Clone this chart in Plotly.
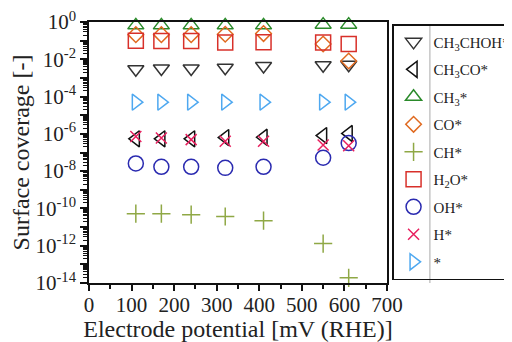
import plotly.graph_objects as go

potential = [110, 170, 240, 320, 410, 550, 610]

ch3choh = [2.95e-3, 3.2e-3, 3.2e-3, 3.5e-3, 4.4e-3, 4.8e-3, 5.1e-3]
ch3co = [5.4e-7, 5.4e-7, 5.4e-7, 6.3e-7, 6.6e-7, 8.1e-7, 1.05e-6]
ch3 = [0.66, 0.66, 0.66, 0.66, 0.66, 0.72, 0.72]
co = [0.21, 0.21, 0.21, 0.22, 0.24, 0.066, 0.0081]
ch = [5.2e-11, 5.2e-11, 4.6e-11, 3.7e-11, 2.2e-11, 1.3e-12, 1.9e-14]
h2o = [0.10, 0.095, 0.095, 0.079, 0.083, 0.079, 0.066]
oh = [2.6e-8, 1.7e-8, 1.7e-8, 1.5e-8, 1.7e-8, 5.2e-8, 3.2e-7]
h = [7.2e-7, 6.0e-7, 4.9e-7, 4.0e-7, 4.0e-7, 2.5e-7, 2.3e-7]
free = [5e-5, 5e-5, 5e-5, 5e-5, 5e-5, 5e-5, 5e-5]

series = [
    ("CH<sub>3</sub>CHOH*", ch3choh, "triangle-down-open", "#333333", 14),
    ("CH<sub>3</sub>CO*", ch3co, "triangle-left-open", "#111111", 14),
    ("CH<sub>3</sub>*", ch3, "triangle-up-open", "#2a8a2a", 14),
    ("CO*", co, "diamond-open", "#e06a20", 12),
    ("CH*", ch, "cross-thin", "#8fa845", 13),
    ("H<sub>2</sub>O*", h2o, "square-open", "#d8302a", 15),
    ("OH*", oh, "circle-open", "#2a2ab0", 15),
    ("H*", h, "x-thin", "#e8205f", 11),
    ("*", free, "triangle-right-open", "#4ea8f0", 14),
]

x_ticks = [0, 100, 200, 300, 400, 500, 600, 700]
y_major = [10.0 ** (-k) for k in range(0, 15)]
y_text = [("10<sup>0</sup>" if k == 0 else "10<sup>-%d</sup>" % k) if k % 2 == 0 else "" for k in range(0, 15)]
y_minor = [m * 10.0 ** (-k) for k in range(1, 15) for m in range(2, 10)]

FF = "Liberation Serif"
TXT = "#222222"

fig = go.Figure()
for i, (name, vals, sym, col, sz) in enumerate(series):
    fig.add_trace(go.Scatter(
        x=potential, y=vals, mode="markers", name=name,
        legendgroup="g%d" % i,
        cliponaxis=False,
        marker=dict(symbol=sym, size=sz, color=col,
                    line=dict(color=col, width=1.5)),
    ))

fig.update_layout(
    width=504, height=334,
    margin=dict(l=81, r=125, t=14, b=59, autoexpand=False),
    paper_bgcolor="white", plot_bgcolor="white",
    font=dict(family=FF, color=TXT, size=22),
    showlegend=True,
    legend=dict(
        x=1.017, y=0.992, xanchor="left", yanchor="top",
        bordercolor="#111111", borderwidth=1.5,
        bgcolor="rgba(0,0,0,0)",
        font=dict(family=FF, size=15, color=TXT),
        tracegroupgap=5, traceorder="grouped",
    ),
    xaxis=dict(
        range=[0, 700],
        tickmode="array", tickvals=x_ticks,
        ticks="outside", ticklen=6, tickwidth=1.5, tickcolor="#111111",
        minor=dict(dtick=50, ticks="outside", ticklen=4, tickwidth=1.5, tickcolor="#111111"),
        showline=True, linecolor="#111111", linewidth=1.5, mirror=True,
        showgrid=False, zeroline=False,
        tickfont=dict(family=FF, size=21, color=TXT),
        ticklabelstandoff=-4,
        title=dict(text="Electrode potential [mV (RHE)]", font=dict(family=FF, size=24, color=TXT), standoff=8),
        automargin=False,
    ),
    yaxis=dict(
        type="log", range=[-14, 0],
        tickmode="array", tickvals=y_major, ticktext=y_text,
        ticks="outside", ticklen=7, tickwidth=1.5, tickcolor="#111111",
        minor=dict(tickmode="array", tickvals=y_minor, ticks="outside", ticklen=4,
                   tickwidth=1, tickcolor="#111111"),
        showline=True, linecolor="#111111", linewidth=1.5, mirror=True,
        showgrid=False, zeroline=False,
        tickfont=dict(family=FF, size=21, color=TXT),
        ticklabeloverflow="allow",
        title=dict(text="Surface coverage [-]", font=dict(family=FF, size=24, color=TXT), standoff=4),
        automargin=False,
    ),
    shapes=[dict(type="line", xref="paper", yref="paper",
                 x0=1.144, x1=1.144, y0=0.0, y1=0.992,
                 line=dict(color="#aaaaaa", width=1))],
)

fig.write_html("out.html")
